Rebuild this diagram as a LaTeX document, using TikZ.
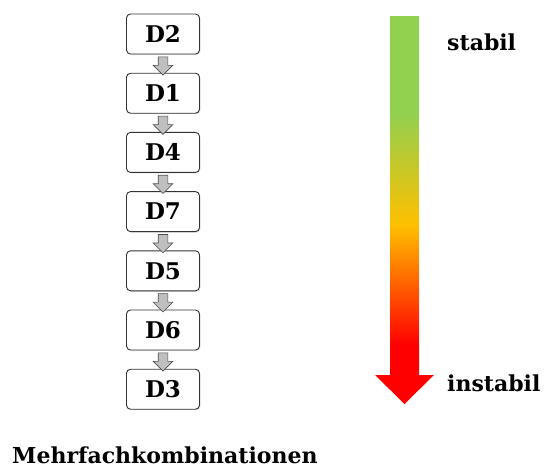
\documentclass[tikz,border=0pt]{standalone}
\usepackage{fontspec}
\setmainfont{DejaVu Serif}
\usepackage{tikz}
\usetikzlibrary{positioning,shapes.arrows,shadows,calc}
\definecolor{bargreen}{HTML}{92D050}
\definecolor{baryellow}{HTML}{FFC000}
\definecolor{barred}{HTML}{FF0000}
\pgfdeclareverticalshading{stabilbar}{100bp}{color(0bp)=(barred); color(32.6bp)=(barred); color(48.1bp)=(baryellow); color(62.5bp)=(bargreen); color(100bp)=(bargreen)}
\tikzset{
  every picture/.style={line join=round, line cap=round},
  dbox/.style={draw=black!80, fill=white, rounded corners=4pt, line width=0.9pt,
    minimum width=73pt, minimum height=40pt, inner sep=0pt,
    font=\fontsize{23}{26}\selectfont\bfseries,
    drop shadow={opacity=0.25, shadow xshift=1pt, shadow yshift=-1pt}},
  darrow/.style={single arrow, draw=black!70, fill=black!25, line width=0.6pt,
    shape border rotate=270, single arrow head extend=5pt, inner sep=4.5pt,
    minimum height=18.3pt, line join=miter},
  label/.style={font=\fontsize{22}{26}\selectfont\bfseries, inner sep=0pt, anchor=west},
}

\begin{document}
\begin{tikzpicture}[x=1pt,y=-1pt]
\useasboundingbox (0,0) rectangle (546,469);
\node[dbox](d2) at (163,34){D2};
\node[dbox,below=18.3pt of d2](d1){D1};
\node[dbox,below=18.3pt of d1](d4){D4};
\node[dbox,below=18.3pt of d4](d7){D7};
\node[dbox,below=18.3pt of d7](d5){D5};
\node[dbox,below=18.3pt of d5](d6){D6};
\node[dbox,below=18.3pt of d6](d3){D3};
\node[darrow](a1) at ($(d2.south)!0.5!(d1.north)$){};
\node[darrow](a2) at ($(d1.south)!0.5!(d4.north)$){};
\node[darrow](a3) at ($(d4.south)!0.5!(d7.north)$){};
\node[darrow](a4) at ($(d7.south)!0.5!(d5.north)$){};
\node[darrow](a5) at ($(d5.south)!0.5!(d6.north)$){};
\node[darrow](a6) at ($(d6.south)!0.5!(d3.north)$){};
% colour bar
\path[shading=stabilbar](390,16)--(419,16)--(419,375)--(434,375)--(404.5,404)--(375,375)--(390,375)--cycle;
\node[label](stabil) at (447,42){stabil};
\node[label](instabil) at (447,383){instabil};
\node[label](mehrfach) at (12,455){Mehrfachkombinationen};
\end{tikzpicture}
\end{document}
